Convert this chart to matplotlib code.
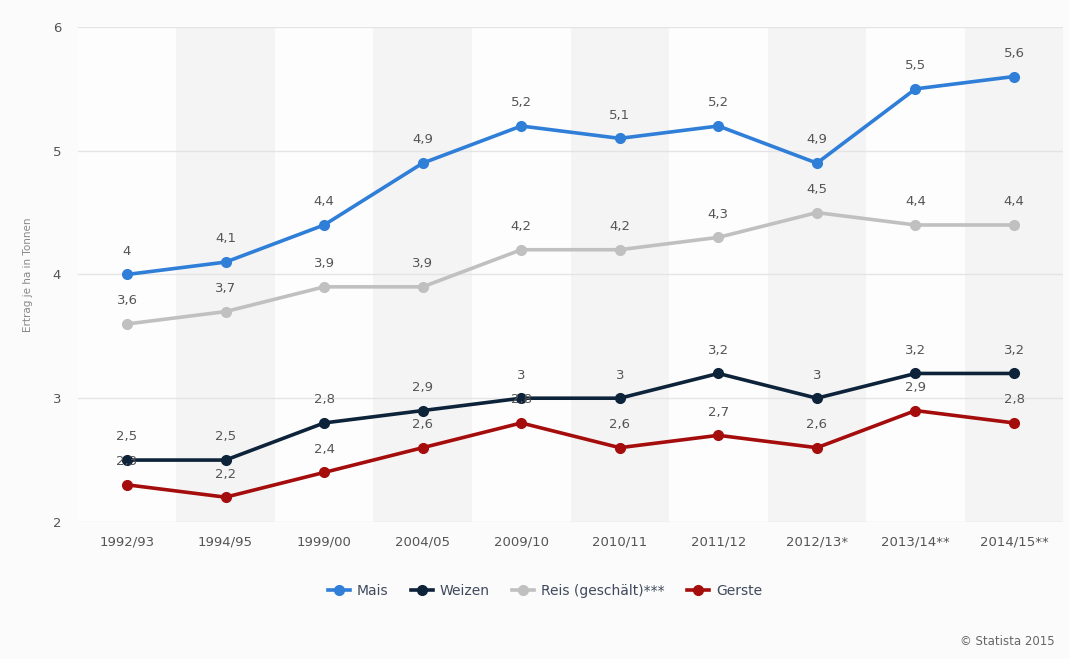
"""Ertrag je ha (Mais, Weizen, Reis, Gerste), 1992/93 bis 2014/15."""
import matplotlib
matplotlib.use("Agg")
import matplotlib.pyplot as plt

seasons = ["1992/93", "1994/95", "1999/00", "2004/05", "2009/10", "2010/11",
           "2011/12", "2012/13*", "2013/14**", "2014/15**"]
mais = [4.0, 4.1, 4.4, 4.9, 5.2, 5.1, 5.2, 4.9, 5.5, 5.6]
weizen = [2.5, 2.5, 2.8, 2.9, 3.0, 3.0, 3.2, 3.0, 3.2, 3.2]
reis = [3.6, 3.7, 3.9, 3.9, 4.2, 4.2, 4.3, 4.5, 4.4, 4.4]
gerste = [2.3, 2.2, 2.4, 2.6, 2.8, 2.6, 2.7, 2.6, 2.9, 2.8]

SERIES = [("Mais", mais, "#2f7ed8"), ("Weizen", weizen, "#0d233a"),
          ("Reis (geschält)***", reis, "#c0c0c0"), ("Gerste", gerste, "#a50d0d")]
TXT = "#555555"


def fmt(v):
    return f"{v:g}".replace(".", ",")


fig = plt.figure(figsize=(10.69, 6.59), dpi=100, facecolor="#fbfbfb")
ax = fig.add_axes([0.0727, 0.208, 0.922, 0.751])
ax.set_facecolor("#fdfdfd")
x = list(range(len(seasons)))

# faint alternating bands
for i in x[1::2]:
    ax.axvspan(i - 0.5, i + 0.5, color="#f4f4f4", lw=0, zorder=0)

for name, vals, col in SERIES:
    ax.plot(x, vals, color=col, lw=2.6, marker="o", ms=7, label=name,
            zorder=3, clip_on=False)
    for xi, v in zip(x, vals):
        ax.annotate(fmt(v), (xi, v), xytext=(0, 12), textcoords="offset points",
                    ha="center", va="bottom", fontsize=9.5, color=TXT, zorder=4)

ax.set_xlim(-0.5, len(seasons) - 0.5)
ax.set_ylim(2, 6)
ax.set_yticks([2, 3, 4, 5, 6])
ax.set_xticks(x)
ax.set_xticklabels(seasons)
ax.yaxis.grid(True, color="#e4e4e4", lw=1)
ax.set_axisbelow(True)
for s in ax.spines.values():
    s.set_visible(False)
ax.tick_params(length=0, labelsize=9.5, colors=TXT)
ax.tick_params(axis="y", pad=12)
ax.tick_params(axis="x", pad=10)
ax.set_ylabel("Ertrag je ha in Tonnen", fontsize=7.5, color="#888888", labelpad=14)

leg = fig.legend(loc="center", bbox_to_anchor=(0.51, 0.103), ncol=4, frameon=False,
                 fontsize=10, handlelength=1.6, columnspacing=1.6, handletextpad=0.5)
for t in leg.get_texts():
    t.set_color("#3e4a5c")

fig.text(0.987, 0.016, "© Statista 2015", ha="right", va="bottom", fontsize=8.5, color="#666666")

fig.savefig("out.png", dpi=100, facecolor=fig.get_facecolor())
